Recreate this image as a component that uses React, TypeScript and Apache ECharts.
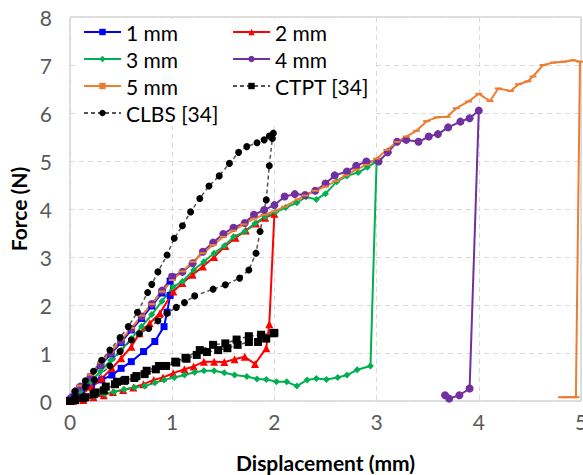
import React, { useEffect, useRef } from "react";
import * as echarts from "echarts";

// ---------- data (displacement mm, force N) ----------
const s1mm: number[][] = [
  [0, 0], [0.05, 0.15], [0.1, 0.28], [0.2, 0.5], [0.3, 0.75], [0.4, 0.98], [0.5, 1.22], [0.6, 1.48],
  [0.7, 1.72], [0.8, 1.98], [0.9, 2.25], [0.98, 2.5], [1.0, 2.58],
  [0.98, 2.2], [0.95, 1.85], [0.92, 1.55], [0.83, 1.24], [0.72, 1.03], [0.6, 0.82], [0.5, 0.68],
  [0.41, 0.54], [0.31, 0.44], [0.21, 0.3], [0.11, 0.19], [0.03, 0.08],
];
const s2mm: number[][] = [
  [0, 0], [0.11, 0.13], [0.21, 0.3], [0.31, 0.47], [0.41, 0.68], [0.5, 0.89], [0.6, 1.13], [0.68, 1.41],
  [0.78, 1.62], [0.88, 1.83], [1.01, 2.28], [1.1, 2.46], [1.2, 2.63], [1.3, 2.8], [1.41, 3.0], [1.52, 3.23],
  [1.62, 3.4], [1.72, 3.55], [1.82, 3.7], [1.91, 3.82], [2.0, 3.9],
  [1.95, 1.6], [1.92, 1.1], [1.81, 0.77], [1.71, 0.92], [1.61, 0.87], [1.51, 0.81], [1.41, 0.82],
  [1.31, 0.82], [1.21, 0.72], [1.12, 0.66], [1.01, 0.58], [0.91, 0.49], [0.82, 0.44], [0.72, 0.35],
  [0.62, 0.28], [0.52, 0.23], [0.42, 0.19], [0.33, 0.12], [0.23, 0.08], [0.13, 0.02], [0.03, 0],
];
const s3mm: number[][] = [
  [0, 0], [0.1, 0.2], [0.2, 0.4], [0.3, 0.62], [0.4, 0.85], [0.5, 1.06], [0.6, 1.3], [0.7, 1.55],
  [0.8, 1.8], [0.9, 2.08], [1.01, 2.38], [1.1, 2.49], [1.21, 2.73], [1.31, 2.9], [1.41, 3.08],
  [1.51, 3.23], [1.6, 3.42], [1.71, 3.53], [1.81, 3.7], [1.91, 3.84], [2.01, 3.93], [2.11, 4.03],
  [2.22, 4.13], [2.31, 4.25], [2.41, 4.2], [2.5, 4.32], [2.61, 4.57], [2.71, 4.69], [2.82, 4.76],
  [2.91, 4.87], [3.0, 4.99],
  [2.94, 0.73], [2.81, 0.65], [2.71, 0.54], [2.62, 0.49], [2.51, 0.45], [2.41, 0.47], [2.32, 0.44],
  [2.22, 0.31], [2.12, 0.4], [2.02, 0.4], [1.92, 0.45], [1.83, 0.46], [1.73, 0.51], [1.61, 0.54],
  [1.51, 0.59], [1.41, 0.63], [1.31, 0.63], [1.22, 0.6], [1.12, 0.54], [1.02, 0.49], [0.92, 0.44],
  [0.83, 0.38], [0.73, 0.31], [0.63, 0.28], [0.53, 0.24], [0.43, 0.19], [0.34, 0.15], [0.24, 0.1],
  [0.14, 0.06], [0.04, 0.01],
];
const s4mm: number[][] = [
  [0, 0.05], [0.05, 0.2], [0.1, 0.3], [0.2, 0.5], [0.3, 0.75], [0.4, 1.0], [0.5, 1.25], [0.6, 1.5],
  [0.7, 1.76], [0.8, 2.02], [0.9, 2.3], [1.0, 2.59], [1.1, 2.69], [1.2, 2.87], [1.3, 3.11], [1.4, 3.3],
  [1.5, 3.48], [1.6, 3.61], [1.71, 3.71], [1.8, 3.88], [1.9, 3.98], [2.0, 4.08], [2.1, 4.26],
  [2.2, 4.31], [2.3, 4.29], [2.4, 4.38], [2.5, 4.53], [2.59, 4.7], [2.71, 4.78], [2.8, 4.9],
  [2.9, 4.99], [3.02, 4.99], [3.11, 5.18], [3.2, 5.4], [3.29, 5.44], [3.41, 5.4], [3.51, 5.51],
  [3.6, 5.56], [3.7, 5.7], [3.82, 5.82], [3.91, 5.89], [4.0, 6.05],
  [3.91, 0.26], [3.81, 0.12], [3.71, 0.05], [3.67, 0.12],
];
const s5mm: number[][] = [
  [0, 0.05], [0.05, 0.2], [0.1, 0.32], [0.2, 0.55], [0.3, 0.8], [0.4, 1.03], [0.5, 1.28], [0.6, 1.52],
  [0.7, 1.78], [0.8, 2.02], [0.9, 2.28], [1.0, 2.52], [1.1, 2.7], [1.2, 2.9], [1.3, 3.08], [1.4, 3.25],
  [1.5, 3.42], [1.6, 3.55], [1.7, 3.68], [1.8, 3.8], [1.9, 3.88], [2.0, 3.95], [2.1, 4.05],
  [2.23, 4.2], [2.3, 4.28], [2.4, 4.38], [2.5, 4.47], [2.6, 4.58], [2.7, 4.7], [2.8, 4.82],
  [2.9, 4.92], [3.0, 5.05], [3.1, 5.23], [3.2, 5.4], [3.29, 5.51], [3.39, 5.63], [3.49, 5.83],
  [3.59, 5.91], [3.69, 5.92], [3.78, 6.1], [3.9, 6.24], [4.0, 6.4], [4.11, 6.25], [4.19, 6.51],
  [4.31, 6.46], [4.39, 6.6], [4.48, 6.66], [4.53, 6.76], [4.63, 7.0], [4.73, 7.05], [4.83, 7.07],
  [4.92, 7.1], [4.99, 7.07],
  [4.95, 0.08], [4.88, 0.08], [4.81, 0.08],
];
const ctpt: number[][] = [
  [0, 0], [0.05, 0.02], [0.13, 0.06], [0.23, 0.14], [0.33, 0.22], [0.44, 0.35], [0.53, 0.42],
  [0.63, 0.48], [0.73, 0.56], [0.84, 0.66], [0.94, 0.73], [1.04, 0.8], [1.14, 0.88], [1.24, 0.96],
  [1.34, 1.02], [1.45, 1.06], [1.54, 1.1], [1.64, 1.17], [1.75, 1.23], [1.84, 1.23], [1.92, 1.3],
  [2.0, 1.42], [1.99, 1.41], [1.87, 1.38], [1.75, 1.35], [1.63, 1.28], [1.52, 1.2], [1.4, 1.17],
  [1.27, 1.06], [1.13, 0.9], [1.03, 0.82], [0.87, 0.73], [0.75, 0.63], [0.65, 0.52], [0.54, 0.44],
  [0.46, 0.4], [0.35, 0.3], [0.25, 0.18], [0.15, 0.08], [0.05, 0.02],
];
const clbs: number[][] = [
  [0, 0], [0.05, 0.2], [0.15, 0.42], [0.23, 0.62], [0.31, 0.85], [0.39, 1.06], [0.49, 1.32],
  [0.57, 1.55], [0.66, 1.85], [0.76, 2.26], [0.8, 2.43], [0.86, 2.69], [0.95, 3.04], [1.02, 3.39],
  [1.1, 3.65], [1.18, 3.94], [1.27, 4.22], [1.36, 4.48], [1.46, 4.69], [1.56, 4.95], [1.65, 5.18],
  [1.73, 5.3], [1.83, 5.38], [1.9, 5.44], [1.95, 5.52], [1.99, 5.58],
  [1.98, 5.47], [1.95, 4.9], [1.92, 4.19], [1.86, 3.53], [1.82, 3.08], [1.75, 2.73], [1.66, 2.56],
  [1.52, 2.42], [1.4, 2.33], [1.22, 2.19], [1.12, 2.05], [1.04, 1.95], [0.95, 1.83], [0.86, 1.67],
  [0.77, 1.51], [0.68, 1.4], [0.6, 1.27], [0.49, 1.03], [0.39, 0.73], [0.24, 0.44], [0.15, 0.3],
  [0.05, 0.09],
];

const xTicks = { min: 0, max: 5, interval: 1 };
const yTicks = { min: 0, max: 8, interval: 1 };

const FONT = "Lato, 'Open Sans', sans-serif";
const FS = 21;

type Def = { name: string; data: number[][]; color: string; symbol: string; size: any; dashed?: boolean; lineColor?: string; width?: number };

const defs: Def[] = [
  { name: "1 mm", data: s1mm, color: "#0000ff", symbol: "rect", size: 7 },
  { name: "2 mm", data: s2mm, color: "#ff0000", symbol: "triangle", size: 8 },
  { name: "3 mm", data: s3mm, color: "#00b050", symbol: "diamond", size: 7 },
  { name: "4 mm", data: s4mm, color: "#7030a0", symbol: "circle", size: 8 },
  { name: "5 mm", data: s5mm, color: "#ed7d31", symbol: "rect", size: [7, 2] },
  { name: "CTPT [34]", data: ctpt, color: "#000000", symbol: "rect", size: 8, dashed: true, lineColor: "#555555", width: 1.5 },
  { name: "CLBS [34]", data: clbs, color: "#000000", symbol: "circle", size: 7, dashed: true, lineColor: "#555555", width: 1.5 },
];

const legendPos: { left: number; cy: number }[] = [
  { left: 83, cy: 32 },
  { left: 232, cy: 32 },
  { left: 83, cy: 59 },
  { left: 232, cy: 59 },
  { left: 83, cy: 86 },
  { left: 232, cy: 86 },
  { left: 83, cy: 113 },
];

export default function App() {
  const ref = useRef<HTMLDivElement>(null);
  useEffect(() => {
    if (!ref.current) return;
    const chart = echarts.init(ref.current, undefined, { renderer: "svg" });
    const series = defs.map((d) => ({
      name: d.name,
      type: "line",
      data: d.data,
      showSymbol: true,
      symbol: d.symbol,
      symbolSize: d.size,
      itemStyle: { color: d.color },
      lineStyle: {
        color: d.lineColor || d.color,
        width: d.width || 2,
        type: d.dashed ? [4, 3] : "solid",
      },
      z: 2,
    }));
    const legends = defs.map((d, i) => ({
      data: [d.name],
      left: legendPos[i].left,
      top: legendPos[i].cy - FS / 2,
      padding: 0,
      itemWidth: 37,
      itemHeight: 8,
      itemGap: 0,
      textStyle: { fontSize: FS, fontFamily: FONT, color: "#000000", padding: [0, 0, 0, 0] },
      selectedMode: false,
    }));
    chart.setOption({
      animation: false,
      backgroundColor: "#ffffff",
      textStyle: { fontFamily: FONT },
      grid: {
        left: 70, top: 17, right: 2, bottom: 74, show: true,
        borderColor: "#bfbfbf", borderWidth: 1,
        containLabel: false, outerBoundsMode: "none",
      },
      graphic: [
        { type: "rect", z: 1, shape: { x: 78, y: 19, width: 296, height: 107 }, style: { fill: "#ffffff" } },
      ],
      legend: legends,
      xAxis: {
        type: "value",
        min: xTicks.min,
        max: xTicks.max,
        interval: xTicks.interval,
        name: "Displacement (mm)",
        nameLocation: "middle",
        nameGap: 51,
        nameTextStyle: { fontSize: FS, fontWeight: "bold", color: "#000000", fontFamily: FONT },
        axisLine: { show: false },
        axisTick: { show: false },
        axisLabel: { fontSize: FS, color: "#595959", margin: 10, fontFamily: FONT, hideOverlap: false },
        splitLine: { show: true, lineStyle: { color: "#d9d9d9", type: [5, 4], width: 1 } },
      },
      yAxis: {
        type: "value",
        min: yTicks.min,
        max: yTicks.max,
        interval: yTicks.interval,
        name: "Force (N)",
        nameLocation: "middle",
        nameGap: 37,
        nameTextStyle: { fontSize: FS, fontWeight: "bold", color: "#000000", fontFamily: FONT },
        axisLine: { show: false },
        axisTick: { show: false },
        axisLabel: { fontSize: FS, color: "#595959", margin: 18, fontFamily: FONT },
        splitLine: { show: true, lineStyle: { color: "#d9d9d9", type: [5, 4], width: 1 } },
      },
      series,
    });
    return () => chart.dispose();
  }, []);
  return <div ref={ref} style={{ width: 583, height: 475, position: "absolute", left: 0, top: 0 }} />;
}
